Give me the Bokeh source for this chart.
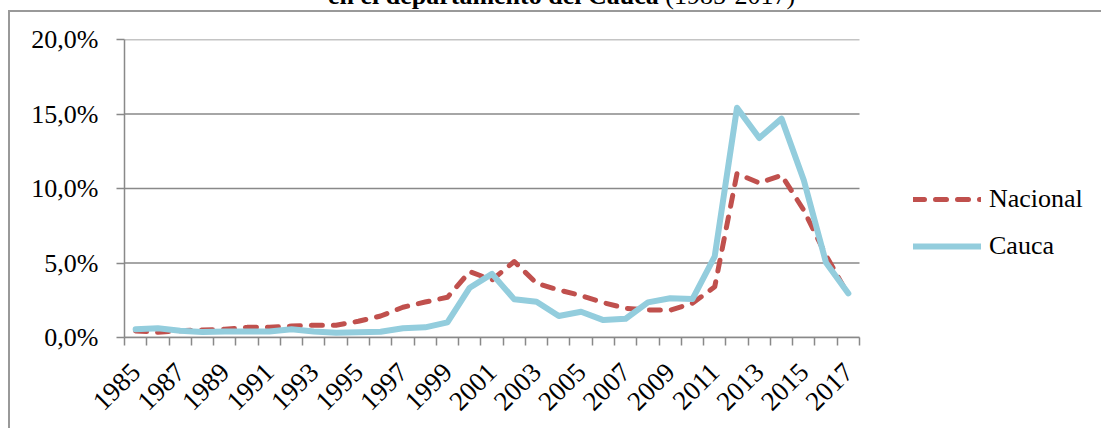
from math import pi
from bokeh.plotting import figure
from bokeh.models import Range1d, FixedTicker, Legend, LegendItem, Div
from bokeh.layouts import column
from bokeh.embed import file_html
from bokeh.resources import INLINE

# ---------------- data ----------------
years = list(range(1985, 2018))
nacional = [0.44, 0.35, 0.46, 0.50, 0.55, 0.68, 0.68, 0.77, 0.82, 0.82,
            1.09, 1.44, 2.03, 2.38, 2.70, 4.42, 3.86, 5.10, 3.64, 3.19,
            2.81, 2.34, 1.96, 1.85, 1.83, 2.30, 3.40, 11.00, 10.37, 10.89,
            8.54, 5.50, 2.85]
cauca = [0.55, 0.62, 0.46, 0.37, 0.41, 0.41, 0.41, 0.55, 0.41, 0.32,
         0.35, 0.39, 0.62, 0.68, 1.02, 3.34, 4.27, 2.56, 2.40, 1.44,
         1.73, 1.17, 1.26, 2.36, 2.63, 2.58, 5.45, 15.42, 13.39, 14.69,
         10.55, 5.01, 2.96]
series_names = ["Nacional", "Cauca"]
x_tick_years = [1985, 1987, 1989, 1991, 1993, 1995, 1997, 1999, 2001,
                2003, 2005, 2007, 2009, 2011, 2013, 2015, 2017]
x_tick_labels = ["1985", "1987", "1989", "1991", "1993", "1995", "1997", "1999", "2001",
                 "2003", "2005", "2007", "2009", "2011", "2013", "2015", "2017"]
y_ticks = [0, 5, 10, 15, 20]
y_tick_labels = ["0,0%", "5,0%", "10,0%", "15,0%", "20,0%"]
title_main = "en el departamento del Cauca"
title_period = "(1985-2017)"

# ---------------- style ----------------
FONT = "Liberation Serif"
GRID = "#898989"
BORDER = "#999999"
RED = "#C0504D"
BLUE = "#93CDDD"

# title strip (only the lower part of the title shows, as in the source picture)
title_div = Div(
    text=('<div style="position:relative;top:-19px;left:328px;white-space:nowrap;'
          'font-family:\'Liberation Serif\';font-size:26px;line-height:30px;color:black;">'
          '<b>' + title_main + '</b> ' + title_period + '</div>'),
    width=1103, height=10, margin=(0, 0, 0, 0))

W, H = 1093, 418          # canvas (placed at 10,12 by margin + border)
ML, MT, MB = 114, 27, 93
DATA_W = 735              # pixel width of the category area
RIGHT_PAD = W - ML - DATA_W
x0, x1 = years[0] - 0.5, years[-1] + 0.5
x_view_end = x1 + RIGHT_PAD * (x1 - x0) / DATA_W   # frame runs to the right edge
y0, y1 = 0, 20

p = figure(width=W, height=H, output_backend="svg", toolbar_location=None,
           x_range=Range1d(x0, x_view_end), y_range=Range1d(y0, y1),
           min_border_left=ML, min_border_right=0,
           min_border_top=MT, min_border_bottom=MB, margin=(0, 0, 0, 0))
p.styles = {"margin-left": "8px",
            "border-left": "2px solid " + BORDER,
            "border-top": "2px solid " + BORDER}
p.outline_line_color = None
p.background_fill_color = "white"
p.border_fill_color = "white"

# horizontal grid lines limited to the category area
p.xgrid.visible = False
p.ygrid.visible = False
p.segment(x0=[x0] * len(y_ticks), y0=y_ticks, x1=[x1] * len(y_ticks), y1=y_ticks,
          line_color=GRID, line_width=1.5)

# x axis
xa = p.xaxis[0]
xa.bounds = (x0, x1)
xa.ticker = FixedTicker(ticks=x_tick_years,
                        minor_ticks=[y - 0.5 for y in years] + [years[-1] + 0.5])
xa.major_label_overrides = {y: l for y, l in zip(x_tick_years, x_tick_labels)}
xa.axis_line_color = GRID
xa.axis_line_width = 1.5
xa.major_tick_line_color = None
xa.major_tick_out = 8
xa.major_tick_in = 0
xa.minor_tick_line_color = GRID
xa.minor_tick_line_width = 1.5
xa.minor_tick_out = 8
xa.minor_tick_in = 0
xa.major_label_orientation = pi / 4
xa.major_label_standoff = 22
xa.major_label_text_font = FONT
xa.major_label_text_font_size = "27px"
xa.major_label_text_color = "black"

# y axis
ya = p.yaxis[0]
ya.bounds = (y0, y1)
ya.ticker = FixedTicker(ticks=y_ticks, minor_ticks=[])
ya.major_label_overrides = {t: l for t, l in zip(y_ticks, y_tick_labels)}
ya.axis_line_color = GRID
ya.axis_line_width = 1.5
ya.major_tick_line_color = GRID
ya.major_tick_line_width = 1.5
ya.major_tick_out = 8
ya.major_tick_in = 0
ya.minor_tick_line_color = None
ya.major_label_standoff = 18
ya.major_label_text_font = FONT
ya.major_label_text_font_size = "26px"
ya.major_label_text_color = "black"

# series
r_n = p.line(years, nacional, line_color=RED, line_width=5, line_dash="11 11",
             line_cap="round", line_join="round")
r_c = p.line(years, cauca, line_color=BLUE, line_width=6,
             line_cap="round", line_join="round")

legend = Legend(items=[LegendItem(label=series_names[0], renderers=[r_n]),
                       LegendItem(label=series_names[1], renderers=[r_c])],
                location=(789, 76), orientation="vertical",
                label_text_font=FONT, label_text_font_size="26px",
                label_text_color="black",
                glyph_width=68, glyph_height=24, label_height=24,
                label_standoff=8, spacing=17, padding=0, margin=0,
                border_line_color=None, background_fill_alpha=0)
p.add_layout(legend)

open("out.html", "w").write(file_html(column(title_div, p, spacing=0), INLINE))
